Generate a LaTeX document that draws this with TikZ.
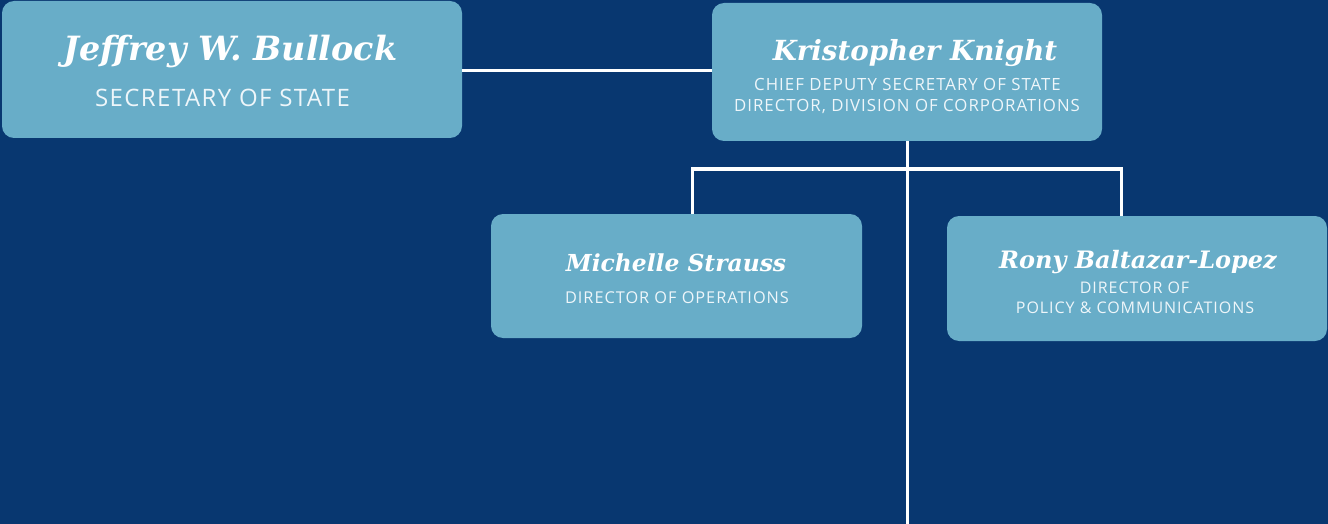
\documentclass[tikz,border=0pt]{standalone}
\usepackage{fontspec}
\usepackage{tikz}
\usetikzlibrary{positioning,calc}
\newfontfamily\namefont{DejaVu Serif}
\newfontfamily\rolefont[LetterSpace=6]{Open Sans}
\definecolor{navy}{HTML}{083770}
\definecolor{boxblue}{HTML}{68ADC8}
\definecolor{rolewhite}{HTML}{EEF6FA}
\tikzset{
  orgbox/.style={fill=boxblue, rounded corners=12pt, inner sep=0pt},
  nametext/.style={anchor=base, text=white, inner sep=0pt, font=\namefont\bfseries\itshape},
  roletext/.style={anchor=base, text=rolewhite, inner sep=0pt, font=\rolefont},
  link/.style={draw=white, line width=3pt}
}

\begin{document}
\begin{tikzpicture}[x=1pt,y=-1pt]
\fill[navy] (0,0) rectangle (1328,524);
\useasboundingbox (0,0) rectangle (1328,524);
% boxes
\node[orgbox, minimum width=460pt, minimum height=137pt] (sos) at (232,69.5) {};
\node[orgbox, minimum width=390pt, minimum height=138pt] (knight) at (907,72) {};
\node[orgbox, minimum width=371pt, minimum height=124pt] (strauss) at (676.5,276) {};
\node[orgbox, minimum width=380pt, minimum height=125pt] (rony) at (1137,278.5) {};
% texts
\node[nametext, font=\namefont\bfseries\itshape\fontsize{33.4}{38}\selectfont] (sos-name) at (230.5,61) {Jeffrey W. Bullock};
\node[roletext, font=\rolefont\fontsize{24}{28}\selectfont] (sos-role) at (222.5,107) {SECRETARY OF STATE};
\node[nametext, font=\namefont\bfseries\itshape\fontsize{27.7}{32}\selectfont] (knight-name) at (915,61) {Kristopher Knight};
\node[roletext, font=\rolefont\fontsize{16.8}{20}\selectfont] (knight-role1) at (907.5,91) {CHIEF DEPUTY SECRETARY OF STATE};
\node[roletext, font=\rolefont\fontsize{16.8}{20}\selectfont] (knight-role2) at (907,112) {DIRECTOR, DIVISION OF CORPORATIONS};
\node[nametext, font=\namefont\bfseries\itshape\fontsize{23.4}{27}\selectfont] (strauss-name) at (676,271) {Michelle Strauss};
\node[roletext, font=\rolefont\fontsize{16.3}{19}\selectfont] (strauss-role) at (677,303) {DIRECTOR OF OPERATIONS};
\node[nametext, font=\namefont\bfseries\itshape\fontsize{24}{28}\selectfont] (rony-name) at (1138,268) {Rony Baltazar-Lopez};
\node[roletext, font=\rolefont\fontsize{16}{19}\selectfont] (rony-role1) at (1134.5,293) {DIRECTOR OF};
\node[roletext, font=\rolefont\fontsize{16}{19}\selectfont] (rony-role2) at (1135,313) {POLICY \& COMMUNICATIONS};
% connectors
\coordinate (trunk) at (907,524);
\coordinate (branch-l) at (692,169);
\coordinate (branch-r) at (1121,169);
\draw[link] ($(sos.east)+(0,1.5)$) -- ($(sos.east -| knight.west)+(0,1.5)$);
\draw[link] (knight.south) -- (trunk);
\draw[link] (strauss.north -| branch-l) -- (branch-l) -- (branch-r) -- (rony.north -| branch-r);
\end{tikzpicture}
\end{document}
